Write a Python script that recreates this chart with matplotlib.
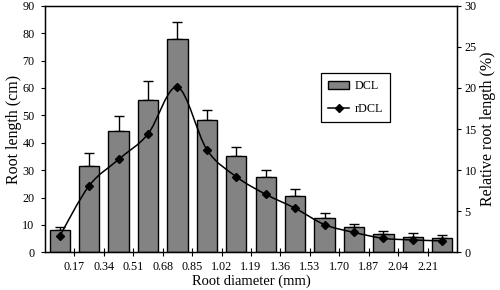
import numpy as np
import matplotlib
matplotlib.use("Agg")
import matplotlib.pyplot as plt
from matplotlib.path import Path
from matplotlib.patches import PathPatch, Patch
from matplotlib.lines import Line2D

plt.rcParams['font.family'] = ['Liberation Serif', 'DejaVu Serif']

# values
tick_labels = ['0.17', '0.34', '0.51', '0.68', '0.85', '1.02', '1.19',
               '1.36', '1.53', '1.70', '1.87', '2.04', '2.21']
dcl = [8.1, 31.5, 44.4, 55.5, 77.8, 48.2, 35.1, 27.4, 20.6, 12.7, 9.3, 6.5, 5.7, 5.1]
dcl_err = [1.3, 4.7, 5.4, 6.9, 6.3, 3.6, 3.2, 2.7, 2.4, 1.7, 1.2, 1.2, 1.2, 1.2]
rdcl = [1.97, 8.1, 11.3, 14.4, 20.1, 12.5, 9.2, 7.06, 5.36, 3.37, 2.42, 1.7, 1.5, 1.39]

BAR_GREY = '#838383'


def smooth_path(xs, ys):
    # Catmull-Rom curve through the points, drawn as cubic Bezier segments
    verts = [(xs[0], ys[0])]
    codes = [Path.MOVETO]
    n = len(xs)
    for i in range(n - 1):
        x0, y0 = (xs[i - 1], ys[i - 1]) if i > 0 else (xs[i], ys[i])
        x1, y1 = xs[i], ys[i]
        x2, y2 = xs[i + 1], ys[i + 1]
        x3, y3 = (xs[i + 2], ys[i + 2]) if i + 2 < n else (x2, y2)
        verts += [(x1 + (x2 - x0) / 6, y1 + (y2 - y0) / 6),
                  (x2 - (x3 - x1) / 6, y2 - (y3 - y1) / 6),
                  (x2, y2)]
        codes += [Path.CURVE4] * 3
    return Path(verts, codes)


fig = plt.figure(figsize=(5, 2.9), dpi=100)
ax = fig.add_axes([0.09, 0.130, 0.824, 0.850])
x = np.arange(len(dcl))

ax.bar(x, dcl, width=0.69, color=BAR_GREY, edgecolor='black', linewidth=1.0, zorder=2)
ax.errorbar(x, dcl, yerr=[np.zeros(len(dcl)), dcl_err], fmt='none',
            ecolor='black', elinewidth=1.0, capsize=3.8, capthick=1.0, zorder=1)

ax.set_xlim(-0.5, 13.5)
ax.set_ylim(0, 90)
ax.set_yticks(range(0, 91, 10))
ax.set_xticks(np.arange(len(tick_labels)) + 0.5)
ax.set_xticklabels(tick_labels)
ax.tick_params(axis='x', direction='inout', length=6, labelsize=8.7, pad=3)
ax.tick_params(axis='y', direction='out', length=3, labelsize=8.7, pad=4.5)
ax.set_ylabel('Root length (cm)', fontsize=11.5, labelpad=0)
ax.set_xlabel('Root diameter (mm)', fontsize=10.5, labelpad=1)
for s in ax.spines.values():
    s.set_linewidth(1.0)

ax2 = ax.twinx()
ax2.set_ylim(0, 30)
ax2.set_yticks(range(0, 31, 5))
ax2.tick_params(axis='y', direction='out', length=3, labelsize=8.7, pad=2.5)
ax2.set_ylabel('Relative root length (%)', fontsize=11.5, labelpad=2)
ax2.add_patch(PathPatch(smooth_path(x, rdcl), facecolor='none',
                        edgecolor='black', linewidth=1.1))
ax2.plot(x, rdcl, linestyle='none', marker='D', markersize=4, color='black')

handles = [Patch(facecolor=BAR_GREY, edgecolor='black'),
           Line2D([], [], color='black', marker='D', markersize=4, linewidth=1.1)]
leg = ax2.legend(handles, ['DCL', 'rDCL'], loc='upper left',
                 bbox_to_anchor=(0.670, 0.728), fontsize=8.7, fancybox=False,
                 framealpha=1, edgecolor='black', handlelength=1.7,
                 handletextpad=0.5, borderpad=0.6, labelspacing=0.9,
                 borderaxespad=0)
leg.get_frame().set_linewidth(0.9)

fig.savefig('out.png', dpi=100)
